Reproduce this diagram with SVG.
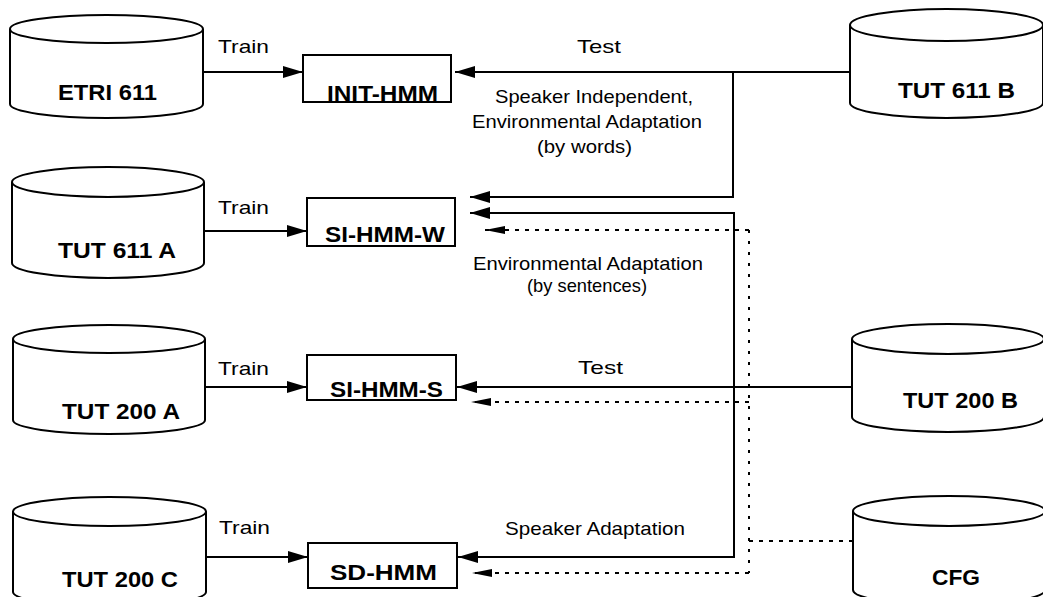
<svg xmlns="http://www.w3.org/2000/svg" width="1043" height="597" viewBox="0 0 1043 597">
<style>
.cyl{fill:#fff;stroke:#000;stroke-width:2}
.box{fill:#fff;stroke:#000;stroke-width:2}
.lbl{font-family:"Liberation Sans",Arial,sans-serif;font-weight:bold;font-size:22px;fill:#000}
.txt{font-family:"Liberation Sans",Arial,sans-serif;font-size:19px;fill:#000}
.ln{fill:none;stroke:#000;stroke-width:2}
.dot{fill:none;stroke:#000;stroke-width:2;stroke-dasharray:4 6}
.vdot{fill:none;stroke:#000;stroke-width:2;stroke-dasharray:3 8}
</style>
<defs>
<marker id="ah" markerUnits="userSpaceOnUse" markerWidth="20" markerHeight="12" viewBox="0 0 20 12" refX="20" refY="6" orient="auto"><path d="M0,0 L20,6 L0,12 z" fill="#000"/></marker>
<marker id="ahd" markerUnits="userSpaceOnUse" markerWidth="20" markerHeight="10" viewBox="0 0 20 10" refX="20" refY="5" orient="auto"><path d="M0,1 L20,5 L0,9 z" fill="#000"/></marker>
</defs>
<rect width="1043" height="597" fill="#fff"/>
<g id="connectors">
<line class="ln" x1="203" y1="72" x2="303" y2="72" marker-end="url(#ah)"/>
<line class="ln" x1="204" y1="231" x2="307" y2="231" marker-end="url(#ah)"/>
<line class="ln" x1="205" y1="387" x2="307" y2="387" marker-end="url(#ah)"/>
<line class="ln" x1="206" y1="557" x2="308" y2="557" marker-end="url(#ah)"/>
<line class="ln" x1="850" y1="72" x2="455" y2="72" marker-end="url(#ah)"/>
<path class="ln" d="M733,72 V197 H470" marker-end="url(#ah)"/>
<line class="ln" x1="852" y1="387" x2="457" y2="387" marker-end="url(#ah)"/>
<path class="ln" d="M734,387 V213 H470" marker-end="url(#ah)"/>
<path class="ln" d="M734,387 V557 H458" marker-end="url(#ah)"/>
<line class="dot" x1="853" y1="541" x2="749" y2="541"/>
<line class="vdot" x1="749" y1="230" x2="749" y2="573"/>
<path class="dot" d="M749,230 H485" marker-end="url(#ahd)"/>
<path class="dot" d="M749,402 H471" marker-end="url(#ahd)"/>
<path class="dot" d="M749,573 H472" marker-end="url(#ahd)"/>
<text class="txt" x="218" y="53" textLength="51" lengthAdjust="spacingAndGlyphs">Train</text>
<text class="txt" x="218" y="214" textLength="51" lengthAdjust="spacingAndGlyphs">Train</text>
<text class="txt" x="218" y="375" textLength="51" lengthAdjust="spacingAndGlyphs">Train</text>
<text class="txt" x="219" y="534" textLength="51" lengthAdjust="spacingAndGlyphs">Train</text>
<text class="txt" x="577" y="53" textLength="44" lengthAdjust="spacingAndGlyphs">Test</text>
<text class="txt" x="578" y="374" textLength="45" lengthAdjust="spacingAndGlyphs">Test</text>
<text class="txt" x="495" y="103" textLength="198" lengthAdjust="spacingAndGlyphs">Speaker Independent,</text>
<text class="txt" x="472" y="128" textLength="230" lengthAdjust="spacingAndGlyphs">Environmental Adaptation</text>
<text class="txt" x="537" y="153" textLength="95" lengthAdjust="spacingAndGlyphs">(by words)</text>
<text class="txt" x="473" y="270" textLength="230" lengthAdjust="spacingAndGlyphs">Environmental Adaptation</text>
<text class="txt" x="527" y="292" textLength="120" lengthAdjust="spacingAndGlyphs">(by sentences)</text>
<text class="txt" x="505" y="535" textLength="180" lengthAdjust="spacingAndGlyphs">Speaker Adaptation</text>
</g>
<g id="etri611">
<path class="cyl" d="M10,29 V104 A96.5,14 0 0 0 203,104 V29"/>
<ellipse class="cyl" cx="106.5" cy="29" rx="96.5" ry="14"/>
<text class="lbl" x="58" y="100" textLength="99" lengthAdjust="spacingAndGlyphs">ETRI 611</text>
</g>
<g id="tut611a">
<path class="cyl" d="M12,182 V263 A96,15 0 0 0 204,263 V182"/>
<ellipse class="cyl" cx="108" cy="182" rx="96" ry="15"/>
<text class="lbl" x="58" y="258" textLength="118" lengthAdjust="spacingAndGlyphs">TUT 611 A</text>
</g>
<g id="tut200a">
<path class="cyl" d="M13,339 V420 A96,14 0 0 0 205,420 V339"/>
<ellipse class="cyl" cx="109" cy="339" rx="96" ry="14"/>
<text class="lbl" x="62" y="419" textLength="118" lengthAdjust="spacingAndGlyphs">TUT 200 A</text>
</g>
<g id="tut200c">
<path class="cyl" d="M13,511.5 V592 A96.5,14 0 0 0 206,592 V511.5"/>
<ellipse class="cyl" cx="109.5" cy="511.5" rx="96.5" ry="14.5"/>
<text class="lbl" x="62" y="587" textLength="116" lengthAdjust="spacingAndGlyphs">TUT 200 C</text>
</g>
<g id="tut611b">
<path class="cyl" d="M850,25 V103 A96.5,15 0 0 0 1043,103 V25"/>
<ellipse class="cyl" cx="946.5" cy="25" rx="96.5" ry="16"/>
<text class="lbl" x="898" y="98" textLength="117" lengthAdjust="spacingAndGlyphs">TUT 611 B</text>
</g>
<g id="tut200b">
<path class="cyl" d="M852,339 V417 A96,15 0 0 0 1044,417 V339"/>
<ellipse class="cyl" cx="948" cy="339" rx="96" ry="15"/>
<text class="lbl" x="903" y="408" textLength="115" lengthAdjust="spacingAndGlyphs">TUT 200 B</text>
</g>
<g id="cfg">
<path class="cyl" d="M853,511 V590 A96,15 0 0 0 1045,590 V511"/>
<ellipse class="cyl" cx="949" cy="511" rx="96" ry="15"/>
<text class="lbl" x="932" y="585" textLength="48" lengthAdjust="spacingAndGlyphs">CFG</text>
</g>
<g id="inithmm">
<rect class="box" x="303" y="55" width="148" height="47"/>
<text class="lbl" x="327" y="101" textLength="111" lengthAdjust="spacingAndGlyphs">INIT-HMM</text>
</g>
<g id="sihmmw">
<rect class="box" x="307" y="198" width="148" height="48"/>
<text class="lbl" x="325" y="242" textLength="120" lengthAdjust="spacingAndGlyphs">SI-HMM-W</text>
</g>
<g id="sihmms">
<rect class="box" x="307" y="355" width="149" height="45"/>
<text class="lbl" x="330" y="397" textLength="113" lengthAdjust="spacingAndGlyphs">SI-HMM-S</text>
</g>
<g id="sdhmm">
<rect class="box" x="308" y="543" width="149" height="45"/>
<text class="lbl" x="330" y="580" textLength="107" lengthAdjust="spacingAndGlyphs">SD-HMM</text>
</g>
</svg>
